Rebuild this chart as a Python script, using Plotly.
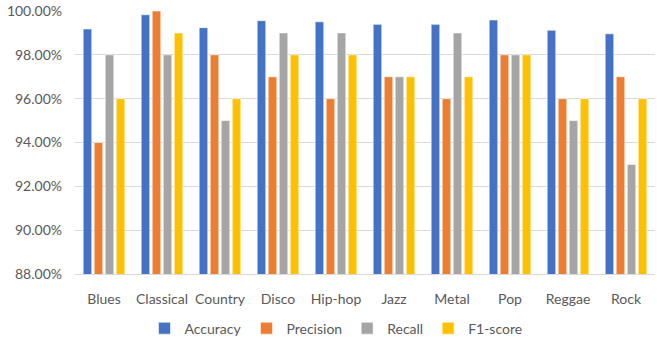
import plotly.graph_objects as go

genres = ["Blues", "Classical", "Country", "Disco", "Hip-hop", "Jazz", "Metal", "Pop", "Reggae", "Rock"]
accuracy = [0.9918, 0.9983, 0.9924, 0.9956, 0.9951, 0.9939, 0.9939, 0.9959, 0.9912, 0.9896]
precision = [0.94, 1.00, 0.98, 0.97, 0.96, 0.97, 0.96, 0.98, 0.96, 0.97]
recall = [0.98, 0.98, 0.95, 0.99, 0.99, 0.97, 0.99, 0.98, 0.95, 0.93]
f1 = [0.96, 0.99, 0.96, 0.98, 0.98, 0.97, 0.97, 0.98, 0.96, 0.96]

series = [("Accuracy", accuracy, "#4472C4"), ("Precision", precision, "#ED7D31"),
          ("Recall", recall, "#A5A5A5"), ("F1-score", f1, "#FFC000")]

fig = go.Figure()
for name, vals, col in series:
    fig.add_trace(go.Bar(x=genres, y=vals, name=name, marker=dict(color=col, line=dict(color="white", width=0.6))))

font = dict(family="Lato, Carlito, Arial", size=14, color="#595959")
fig.update_layout(
    width=657, height=337, barmode="group", bargap=0.24, bargroupgap=0.22,
    plot_bgcolor="white", paper_bgcolor="white", font=font,
    margin=dict(l=75, r=2, t=11, b=63, autoexpand=False),
    legend=dict(orientation="h", x=0.45, xanchor="center", yref="container", y=0.025, yanchor="middle",
                font=dict(size=14, color="#595959"), itemwidth=30, traceorder="normal"),
    yaxis=dict(range=[0.88, 1.0], tickvals=[0.88, 0.90, 0.92, 0.94, 0.96, 0.98, 1.0], tickformat=".2%",
               gridcolor="#D9D9D9", gridwidth=1.2, showline=False, zeroline=False, ticks="", ticklen=0,
               ticklabelstandoff=12),
    xaxis=dict(showline=True, linecolor="#D9D9D9", linewidth=1.2, ticks="", ticklabelstandoff=12),
)
fig.write_html("out.html")
